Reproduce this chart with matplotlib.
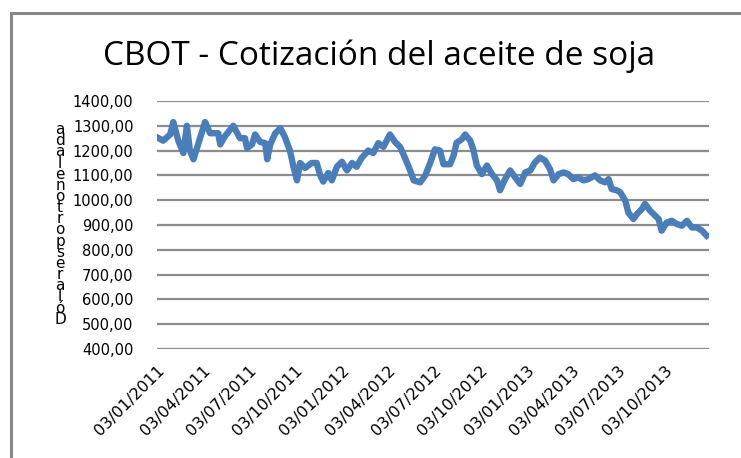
import matplotlib.pyplot as plt
from matplotlib.patches import Rectangle
import pandas as pd

# precio del aceite de soja (dolares por tonelada)
start = '2011-01-03'
day = [3, 12, 26, 32, 42, 52, 59, 65, 72, 85, 95, 105, 121, 125, 135, 151,
       164, 174, 178, 188, 194, 204, 214, 218, 224, 234, 244, 253, 263, 270,
       277, 283, 293, 306, 316, 323, 329, 339, 346, 356, 366, 376, 386, 395,
       405, 418, 428, 438, 448, 461, 471, 481, 491, 501, 508, 521, 531, 541,
       550, 560, 567, 580, 587, 593, 603, 610, 620, 626, 633, 643, 653, 663,
       673, 679, 689, 699, 709, 719, 729, 739, 748, 758, 768, 778, 785, 795,
       805, 814, 824, 834, 844, 854, 867, 877, 887, 894, 900, 910, 917, 927,
       933, 943, 950, 960, 966, 976, 986, 993, 999, 1009, 1019, 1029, 1039,
       1049, 1059, 1069, 1079, 1088]
price = [1250, 1240, 1265, 1315, 1240, 1190, 1300, 1200, 1165, 1250, 1315,
         1270, 1270, 1225, 1260, 1300, 1250, 1250, 1210, 1225, 1265, 1235,
         1230, 1165, 1225, 1270, 1290, 1255, 1200, 1135, 1080, 1150, 1130,
         1150, 1150, 1100, 1075, 1110, 1080, 1135, 1155, 1120, 1150, 1135,
         1170, 1200, 1190, 1230, 1215, 1265, 1235, 1215, 1170, 1120, 1080,
         1072, 1100, 1152, 1205, 1200, 1145, 1145, 1180, 1232, 1245, 1265,
         1240, 1205, 1140, 1105, 1140, 1105, 1080, 1040, 1085, 1120, 1092,
         1065, 1112, 1120, 1152, 1172, 1160, 1125, 1080, 1105, 1112, 1105,
         1085, 1092, 1080, 1085, 1100, 1080, 1072, 1085, 1045, 1040, 1032,
         998, 950, 924, 944, 965, 985, 958, 938, 924, 877, 910, 917, 904,
         897, 917, 890, 890, 877, 857]
tick_labels = ['03/01/2011', '03/04/2011', '03/07/2011', '03/10/2011',
               '03/01/2012', '03/04/2012', '03/07/2012', '03/10/2012',
               '03/01/2013', '03/04/2013', '03/07/2013', '03/10/2013']
end = '2013-12-31'

dates = pd.Timestamp(start) + pd.to_timedelta(day, unit='D')
ticks = pd.to_datetime(tick_labels, format='%d/%m/%Y')

fig = plt.figure(figsize=(7.41, 4.58), dpi=100)
fig.patches.append(Rectangle((0.0155, -0.05), 1.2, 1.0213, transform=fig.transFigure,
                             fill=False, edgecolor='#878787', linewidth=2.2))

ax = fig.add_axes([0.212, 0.238, 0.745, 0.5415])
ax.plot(dates, price, color='#4A7EBB', linewidth=4.6, solid_joinstyle='round')

ax.set_ylim(400, 1400)
ax.set_yticks(range(400, 1401, 100))
ax.set_yticklabels([f'{v},00' for v in range(400, 1401, 100)], fontsize=10.5)
ax.set_xlim(pd.Timestamp(start), pd.Timestamp(end))
ax.set_xticks(ticks)
ax.set_xticklabels(tick_labels, rotation=45, ha='right', rotation_mode='anchor', fontsize=11.5)
ax.tick_params(axis='both', length=0)
ax.tick_params(axis='y', pad=17)
ax.tick_params(axis='x', pad=10)
ax.grid(axis='y', color='#8c8c8c', linewidth=1.6)
ax.grid(axis='x', visible=False)
ax.set_axisbelow(True)
for s in ax.spines.values():
    s.set_visible(False)

fig.text(0.511, 0.878, 'CBOT - Cotización del aceite de soja', ha='center', va='center',
         fontsize=24, family='Open Sans')

# etiqueta del eje y, letras apiladas como en el original
fig.text(0.081, 0.51, '\n'.join(reversed('Dólaresportonelada')), ha='center', va='center',
         fontsize=11, linespacing=0.68)

fig.savefig('out.png', dpi=100)
